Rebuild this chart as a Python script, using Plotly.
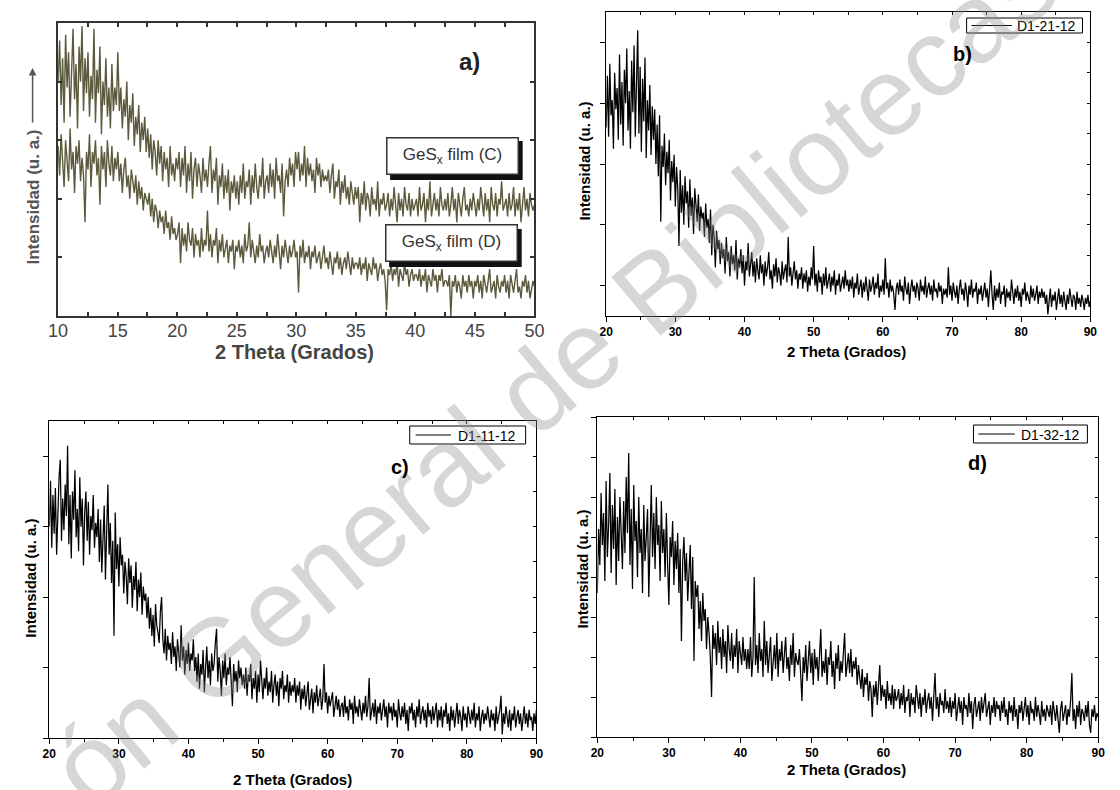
import numpy as np
import plotly.graph_objects as go

W, H = 1120, 790

# ---------------- data (arbitrary intensity units) ----------------
a_x_range = [10, 50]
a_film_c = [
    4.0, 4.7, 3.6, 4.4, 3.3, 4.8, 3.9, 4.5, 3.4, 4.2, 4.9, 3.7, 4.3, 3.2, 4.6, 4.0, 4.95, 3.5, 4.4, 3.8,
    4.5, 3.4, 4.1, 3.7, 4.9, 3.3, 4.2, 3.8, 4.6, 3.1, 4.0, 3.6, 4.4, 3.4, 3.9, 3.2, 4.3, 3.5, 3.9, 3.6,
    4.5, 3.5, 3.9, 3.2, 3.7, 3.4, 4.0, 3.0, 3.6, 3.3, 3.8, 2.9, 3.4, 3.1, 3.6, 2.8, 3.3, 3.0, 3.4, 2.8,
    3.2, 2.7, 3.1, 2.5, 3.0, 2.8, 2.4, 3.0, 2.6, 2.9, 2.3, 2.8, 2.5, 2.7, 2.2, 2.9, 2.4, 2.6, 2.3, 2.7,
    2.5, 2.8, 2.2, 2.7, 2.4, 2.9, 2.1, 2.6, 2.3, 2.8, 2.0, 2.5, 2.7, 2.2, 2.6, 2.4, 2.1, 2.7, 2.3, 2.5,
    2.2, 2.6, 2.9, 2.1, 2.5, 2.3, 2.7, 1.9, 2.4, 2.2, 2.6, 2.0, 2.4, 2.1, 2.5, 1.8, 2.3, 2.1, 2.4, 2.0,
    2.3, 1.9, 2.4, 2.1, 2.6, 2.0, 2.3, 2.2, 2.5, 1.9, 2.4, 2.1, 2.6, 2.2, 2.0, 2.4, 2.2, 2.7, 2.0, 2.3,
    2.4, 2.1, 2.6, 2.2, 2.5, 2.0, 2.7, 2.3, 2.4, 2.1, 2.6, 1.7, 2.3, 2.5, 2.2, 2.7, 2.4, 2.6, 2.2, 2.8,
    2.5, 2.8, 2.3, 2.6, 2.4, 2.9, 2.2, 2.7, 2.4, 2.6, 2.3, 2.5, 2.1, 2.7, 2.4, 2.6, 2.2, 2.5, 2.3, 2.4,
    2.3, 2.5, 2.1, 2.4, 2.6, 2.0, 2.3, 2.2, 2.5, 1.9, 2.3, 2.1, 2.4, 2.0, 2.2, 1.9, 2.3, 2.1, 1.9, 2.2,
    2.0, 2.2, 1.6, 2.1, 1.9, 2.3, 1.8, 2.1, 2.0, 1.7, 2.2, 1.9, 2.0, 1.8, 2.3, 1.7, 2.0, 1.9, 2.1, 1.8,
    1.9, 2.1, 1.7, 2.0, 1.8, 2.2, 1.9, 1.6, 2.1, 1.8, 2.0, 1.7, 2.2, 1.9, 1.8, 2.1, 1.7, 2.0, 1.8, 1.9,
    2.0, 1.7, 2.2, 1.8, 1.9, 2.1, 1.6, 2.0, 1.8, 2.3, 1.7, 1.9, 2.1, 1.8, 2.0, 1.7, 2.2, 1.9, 1.8, 2.0,
    1.8, 2.1, 1.7, 1.9, 2.2, 1.8, 2.0, 1.6, 2.1, 1.9, 1.7, 2.0, 2.2, 1.8, 1.9, 1.7, 2.0, 1.8, 2.1, 1.9,
    1.7, 2.0, 1.8, 2.2, 1.9, 1.7, 2.1, 1.8, 2.0, 1.6, 2.2, 1.9, 1.8, 2.1, 1.7, 2.0, 1.9, 2.3, 1.8, 1.9,
    2.0, 1.7, 2.1, 1.8, 1.9, 2.2, 1.7, 2.0, 1.8, 2.1, 1.6, 1.9, 2.2, 1.8, 2.0, 1.7, 2.1, 1.9, 1.8, 1.9,
]
a_film_d = [
    2.9, 2.4, 3.1, 2.6, 2.2, 3.0, 2.7, 2.3, 3.2, 2.5, 2.8, 2.1, 2.9, 2.6, 3.0, 2.3, 2.7, 2.4, 1.6, 2.8,
    2.5, 3.1, 2.2, 2.8, 2.6, 3.0, 2.4, 2.7, 1.9, 2.9, 2.5, 2.8, 2.2, 3.0, 2.6, 2.4, 2.9, 2.3, 2.7, 2.5,
    2.8, 2.3, 2.6, 2.1, 2.5, 2.7, 2.2, 2.4, 2.0, 2.5, 2.3, 2.1, 2.4, 1.9, 2.3, 2.0, 2.2, 1.8, 2.1, 2.0,
    1.9, 2.1, 1.7, 2.0, 1.6, 1.9, 1.8, 1.5, 1.8, 1.6, 1.7, 1.4, 1.8, 1.5, 1.6, 1.3, 1.7, 1.4, 1.5, 1.3,
    1.4, 1.6, 0.9, 1.5, 1.2, 1.4, 1.1, 1.6, 1.3, 1.2, 1.5, 1.0, 1.4, 1.2, 1.3, 1.0, 1.5, 1.1, 1.3, 1.2,
    1.8, 1.1, 1.4, 1.0, 1.3, 1.2, 1.5, 0.9, 1.3, 1.1, 1.4, 1.0, 1.2, 1.3, 0.9, 1.2, 1.1, 1.3, 0.8, 1.2,
    1.1, 1.3, 1.0, 1.2, 0.9, 1.4, 1.1, 1.2, 1.6, 1.0, 1.3, 1.1, 0.9, 1.2, 1.0, 1.4, 1.1, 1.2, 0.9, 1.1,
    1.2, 1.0, 1.3, 1.1, 0.9, 1.2, 1.0, 1.4, 1.1, 0.8, 1.2, 1.0, 1.3, 1.1, 0.9, 1.2, 1.0, 1.1, 1.3, 1.0,
    1.1, 0.4, 1.2, 1.0, 1.3, 0.9, 1.1, 1.0, 1.2, 0.8, 1.1, 1.0, 1.2, 0.9, 1.0, 1.1, 0.8, 1.0, 1.2, 0.9,
    1.0, 0.8, 1.1, 0.9, 0.7, 1.0, 0.9, 1.1, 0.8, 1.0, 0.7, 0.9, 1.0, 0.8, 1.1, 0.9, 0.7, 1.0, 0.8, 0.9,
    0.9, 0.8, 1.0, 0.7, 0.9, 0.8, 1.0, 0.6, 0.9, 0.8, 0.7, 1.0, 0.8, 0.9, 0.6, 0.8, 0.9, 0.7, 0.8, 0.6,
    0.1, 0.8, 0.7, 0.9, 0.6, 0.8, 0.7, 0.9, 0.5, 0.8, 0.7, 0.6, 0.9, 0.7, 0.8, 0.5, 0.7, 0.8, 0.6, 0.7,
    0.7, 0.6, 0.8, 0.5, 0.7, 0.6, 0.8, 0.4, 0.7, 0.6, 0.5, 0.8, 0.6, 0.7, 0.4, 0.7, 0.6, 0.8, 0.5, 0.6,
    0.6, 0.5, 0.7, 0.0, 0.6, 0.5, 0.7, 0.4, 0.6, 0.5, 0.3, 0.7, 0.5, 0.6, 0.4, 0.7, 0.5, 0.6, 0.3, 0.6,
    0.5, 0.7, 0.4, 0.6, 0.3, 0.7, 0.5, 0.4, 0.6, 0.8, 0.4, 0.5, 0.6, 0.3, 0.7, 0.5, 0.4, 0.6, 0.5, 0.7,
    0.4, 0.6, 0.3, 0.7, 0.5, 0.4, 0.6, 0.8, 0.4, 0.5, 0.3, 0.6, 0.5, 0.7, 0.4, 0.6, 0.3, 0.5, 0.6, 0.5,
]
a_ticks = [10, 12.5, 15, 17.5, 20, 22.5, 25, 27.5, 30, 32.5, 35, 37.5, 40, 42.5, 45, 47.5, 50]
a_ticklabels = ["10", "", "15", "", "20", "", "25", "", "30", "", "35", "", "40", "", "45", "", "50"]
a_labels = ["GeS<sub>x</sub> film (C)", "GeS<sub>x</sub> film (D)"]

bcd_x_range = [20, 90]
bcd_ticks = [20, 30, 40, 50, 60, 70, 80, 90]

b_d1_21_12 = [
    6.2, 7.9, 5.9, 8.3, 6.6, 7.1, 5.5, 8.0, 6.8, 7.5, 5.8, 8.6, 6.3, 7.7, 5.6, 8.1, 7.0, 8.8, 6.1, 7.4,
    5.5, 8.4, 6.7, 8.9, 5.9, 7.3, 9.4, 6.0, 8.2, 5.4, 7.8, 6.4, 8.5, 5.2, 7.1, 6.1, 7.6, 5.3, 6.9, 5.8,
    6.8, 5.0, 6.3, 4.6, 6.6, 3.1, 5.6, 4.9, 6.0, 4.3, 5.4, 4.7, 5.8, 3.8, 5.1, 4.4, 5.3, 3.6, 4.9, 4.2,
    2.3, 4.8, 3.4, 4.3, 3.0, 4.6, 3.7, 4.1, 2.9, 4.5, 3.3, 3.9, 2.7, 4.2, 3.5, 3.1, 4.0, 2.8, 3.6, 3.2,
    3.4, 2.6, 3.7, 2.9, 3.2, 2.4, 3.5, 2.0, 3.0, 2.6, 1.6, 2.8, 2.2, 2.5, 1.7, 2.4, 1.9, 2.2, 1.4, 2.6,
    1.8, 2.1, 1.3, 2.3, 1.7, 2.0, 1.5, 2.5, 1.2, 1.9, 1.6, 2.2, 1.4, 2.0, 1.0, 1.8, 1.5, 2.4, 1.3, 1.7,
    2.1, 1.3, 1.8, 1.1, 1.9, 1.5, 1.2, 2.0, 1.4, 1.7, 1.0, 1.8, 1.3, 1.6, 2.1, 1.2, 1.5, 0.9, 1.7, 1.3,
    1.9, 1.1, 1.6, 1.4, 1.0, 1.8, 1.2, 1.5, 1.7, 1.1, 2.6, 1.3, 1.6, 1.0, 1.4, 1.8, 1.2, 1.5, 0.9, 1.4,
    1.2, 1.6, 0.9, 1.4, 1.1, 1.5, 0.8, 1.3, 1.0, 1.6, 1.2, 2.3, 1.0, 1.4, 0.8, 1.5, 1.1, 1.3, 0.7, 1.4,
    1.0, 1.6, 0.9, 1.2, 1.4, 0.8, 1.3, 1.0, 1.5, 0.7, 1.2, 1.0, 1.4, 0.8, 1.1, 1.3, 0.9, 1.5, 1.0, 1.2,
    0.8, 1.2, 0.9, 1.3, 0.6, 1.1, 0.9, 1.4, 0.7, 1.0, 1.2, 0.6, 1.1, 0.8, 1.3, 0.9, 0.5, 1.2, 0.8, 1.0,
    1.3, 0.7, 1.1, 0.9, 1.4, 0.6, 1.0, 0.8, 1.2, 0.7, 1.9, 0.9, 1.1, 0.6, 1.2, 0.8, 1.0, 0.7, 0.2, 0.9,
    1.1, 0.7, 1.2, 0.8, 1.0, 0.5, 1.3, 0.9, 0.7, 1.1, 0.4, 0.9, 1.2, 0.8, 1.0, 0.6, 1.1, 0.9, 0.5, 1.2,
    0.8, 1.0, 0.7, 1.3, 0.6, 0.9, 1.1, 0.7, 1.0, 0.5, 1.2, 0.8, 0.9, 0.6, 1.1, 0.8, 1.0, 0.4, 0.9, 0.7,
    0.9, 0.6, 1.6, 0.7, 1.0, 0.5, 1.1, 0.8, 0.6, 1.0, 0.4, 0.9, 1.2, 0.7, 0.9, 0.5, 1.1, 0.8, 0.3, 1.0,
    0.7, 1.2, 0.6, 0.9, 0.8, 1.1, 0.4, 0.9, 0.7, 1.0, 0.5, 0.8, 1.1, 0.6, 0.9, 0.3, 0.8, 1.5, 0.7, 0.2,
    1.0, 0.5, 0.9, 0.6, 1.1, 0.4, 0.8, 0.7, 1.0, 0.3, 0.9, 0.6, 0.8, 0.5, 1.2, 0.7, 0.4, 0.9, 0.6, 1.0,
    0.5, 0.8, 0.3, 0.9, 0.7, 1.1, 0.5, 0.8, 0.6, 0.4, 1.0, 0.6, 0.9, 0.5, 0.7, 1.0, 0.4, 0.8, 0.6, 0.9,
    0.6, 0.8, 0.4, 0.7, 0.05, 0.6, 0.9, 0.3, 0.7, 0.5, 0.8, 0.2, 0.6, 0.9, 0.4, 0.7, 0.3, 0.8, 0.5, 0.2,
    0.7, 0.4, 0.9, 0.5, 0.3, 0.7, 0.6, 0.2, 0.8, 0.4, 0.6, 0.3, 0.7, 0.5, 0.2, 0.6, 0.4, 0.7, 0.3, 0.5,
]
c_d1_11_12 = [
    6.0, 7.3, 5.4, 6.9, 5.8, 7.1, 5.2, 6.6, 7.4, 7.9, 5.6, 6.8, 5.9, 7.2, 6.3, 8.3, 5.5, 6.9, 5.1, 7.0,
    6.2, 7.6, 5.7, 6.5, 5.3, 7.4, 6.0, 6.8, 4.9, 6.4, 7.0, 5.6, 6.7, 5.2, 6.3, 5.9, 6.9, 5.4, 6.1, 5.7,
    6.5, 5.0, 6.2, 4.7, 5.9, 6.6, 4.5, 5.8, 7.2, 5.2, 6.1, 4.4, 5.6, 2.9, 6.4, 4.8, 5.5, 4.3, 5.7, 4.9,
    5.2, 4.1, 5.0, 4.6, 3.8, 5.1, 4.4, 4.9, 3.7, 4.6, 4.2, 5.0, 3.6, 4.5, 4.0, 4.7, 3.5, 4.3, 3.9, 4.1,
    3.4, 4.0, 3.1, 3.7, 2.9, 3.5, 2.6, 3.8, 3.2, 3.0, 2.7, 3.6, 4.0, 2.8, 2.4, 3.1, 2.2, 2.9, 2.5, 2.7,
    2.1, 3.0, 2.3, 2.6, 1.9, 2.8, 2.4, 2.0, 3.2, 2.2, 2.6, 1.8, 2.5, 2.1, 2.7, 1.9, 2.4, 2.2, 2.8, 1.9,
    2.3, 1.6, 2.4, 1.4, 2.1, 1.8, 2.5, 1.3, 2.0, 2.6, 1.7, 2.2, 1.5, 2.4, 1.9, 2.1, 2.7, 3.1, 1.6, 2.3,
    1.9, 1.2, 2.2, 1.7, 2.4, 1.5, 2.0, 1.8, 2.3, 1.4, 0.9, 2.1, 1.6, 1.9, 1.3, 2.2, 1.7, 2.0, 1.5, 1.8,
    1.4, 2.0, 1.2, 1.8, 1.6, 2.1, 1.1, 1.7, 1.4, 1.9, 1.0, 1.8, 1.3, 2.2, 1.5, 1.1, 1.7, 1.4, 2.0, 1.2,
    1.6, 1.3, 1.9, 1.0, 1.5, 1.8, 1.2, 1.6, 0.9, 1.7, 1.4, 1.9, 1.1, 1.5, 1.3, 1.8, 1.0, 1.6, 1.2, 1.5,
    1.3, 1.7, 1.0, 1.5, 1.2, 1.6, 0.8, 1.4, 1.1, 1.5, 0.9, 1.3, 1.6, 0.8, 1.2, 1.4, 0.7, 1.3, 1.0, 1.5,
    0.9, 1.2, 1.4, 0.8, 1.1, 2.1, 1.0, 1.3, 0.7, 1.2, 0.9, 1.1, 1.3, 0.6, 1.0, 1.2, 0.8, 1.1, 0.6, 0.9,
    1.0, 0.6, 1.2, 0.7, 0.9, 0.5, 1.1, 0.8, 1.0, 0.4, 1.2, 0.7, 0.9, 0.6, 1.1, 0.8, 0.5, 1.0, 0.7, 1.2,
    0.6, 0.9, 1.7, 0.5, 0.8, 1.0, 0.6, 1.1, 0.4, 0.9, 0.7, 1.0, 0.5, 0.8, 1.1, 0.6, 0.9, 0.3, 1.0, 0.7,
    0.9, 0.5, 1.0, 0.6, 0.8, 0.3, 1.1, 0.7, 0.5, 0.9, 0.6, 1.0, 0.4, 0.8, 0.2, 0.9, 0.7, 1.0, 0.5, 0.8,
    0.3, 0.9, 0.6, 1.1, 0.4, 0.7, 0.9, 0.5, 0.8, 0.3, 1.0, 0.6, 0.8, 0.4, 0.9, 0.5, 0.7, 1.0, 0.3, 0.8,
    0.5, 0.9, 0.3, 0.8, 0.6, 1.0, 0.4, 0.7, 0.2, 0.9, 0.5, 0.8, 0.3, 0.7, 1.0, 0.4, 0.8, 0.6, 0.2, 0.9,
    0.5, 0.7, 0.3, 0.9, 0.6, 0.4, 0.8, 0.5, 1.0, 0.3, 0.7, 0.5, 0.9, 0.2, 0.6, 0.8, 0.4, 0.7, 0.5, 0.9,
    0.6, 0.3, 0.8, 0.5, 0.7, 0.2, 0.9, 0.4, 0.6, 0.8, 1.2, 0.1, 0.7, 0.4, 0.9, 0.5, 0.3, 0.8, 0.2, 0.7,
    0.5, 0.9, 0.3, 0.6, 0.8, 0.4, 0.7, 0.2, 0.6, 0.9, 0.4, 0.7, 0.3, 0.8, 0.5, 0.6, 0.2, 0.7, 0.4, 0.8,
]
d_d1_32_12 = [
    3.6, 5.2, 4.3, 6.1, 4.8, 5.6, 3.9, 6.4, 4.5, 5.3, 6.6, 4.1, 5.8, 4.7, 6.2, 3.8, 5.5, 4.4, 6.0, 5.0,
    4.2, 5.9, 4.6, 6.5, 5.1, 7.1, 4.3, 5.7, 3.7, 6.3, 4.9, 5.4, 4.0, 6.0, 4.6, 5.2, 3.6, 5.8, 4.4, 5.0,
    5.7, 3.5, 5.1, 6.3, 4.5, 5.6, 4.2, 6.0, 4.8, 5.3, 3.9, 5.9, 4.6, 5.2, 4.0, 5.6, 4.3, 3.3, 5.0, 4.5,
    5.4, 3.8, 4.9, 4.2, 5.1, 3.6, 4.7, 2.4, 4.4, 5.0, 3.9, 4.6, 3.4, 4.2, 4.8, 3.2, 4.5, 1.9, 3.9, 3.5,
    3.8, 2.7, 3.4, 2.4, 3.6, 2.9, 3.2, 2.2, 3.0, 2.6, 2.0, 1.0, 2.8, 2.2, 2.6, 1.8, 2.9, 2.1, 2.5, 1.7,
    2.7, 2.0, 2.4, 1.6, 2.8, 2.2, 1.9, 2.6, 1.7, 2.3, 2.0, 2.7, 1.6, 2.4, 2.1, 1.8, 2.5, 1.9, 2.2, 1.7,
    2.2, 1.7, 2.5, 1.5, 2.0, 4.0, 1.8, 2.3, 1.6, 2.6, 1.9, 2.2, 1.5, 2.9, 1.8, 2.4, 1.6, 2.1, 2.5, 1.4,
    2.0, 2.3, 1.7, 2.6, 1.5, 2.2, 1.9, 2.4, 1.6, 2.1, 2.5, 1.7, 2.0, 1.4, 2.3, 1.8, 2.6, 1.5, 2.1, 1.9,
    1.8, 2.2, 1.5, 0.9, 2.0, 1.6, 2.3, 1.4, 1.9, 2.4, 1.6, 2.1, 1.3, 2.2, 1.7, 2.0, 1.4, 2.3, 2.7, 1.5,
    1.9, 1.6, 2.2, 1.3, 2.0, 1.8, 2.4, 1.5, 1.9, 1.2, 2.1, 1.7, 2.3, 1.4, 1.9, 1.6, 2.2, 2.6, 1.5, 1.8,
    2.1, 1.6, 2.2, 1.5, 1.9, 1.7, 2.0, 1.3, 1.8, 1.5, 1.2, 1.7, 1.0, 1.5, 1.3, 1.6, 0.9, 1.4, 1.2, 0.5,
    1.3, 1.0, 1.4, 0.8, 1.2, 1.8, 0.9, 1.3, 1.0, 1.2, 0.7, 1.4, 0.9, 1.1, 0.8, 1.3, 0.7, 1.2, 0.9, 1.0,
    1.2, 0.7, 1.1, 0.8, 1.3, 0.6, 1.0, 0.9, 1.2, 0.5, 1.1, 0.8, 1.0, 0.6, 1.3, 0.9, 0.7, 1.1, 0.5, 1.0,
    0.8, 1.2, 0.6, 0.9, 1.1, 0.7, 1.0, 0.4, 0.9, 1.6, 0.7, 1.0, 0.5, 1.1, 0.8, 0.9, 0.6, 1.2, 0.7, 0.9,
    0.6, 1.0, 0.5, 0.9, 0.7, 1.1, 0.4, 0.8, 1.0, 0.6, 0.9, 0.3, 1.0, 0.7, 0.8, 0.5, 1.1, 0.6, 0.9, 0.2,
    0.8, 1.0, 0.5, 0.7, 0.9, 0.4, 1.0, 0.6, 0.8, 1.1, 0.5, 0.7, 0.9, 0.3, 0.8, 0.6, 1.0, 0.5, 0.9, 0.7,
    0.8, 0.4, 0.9, 0.6, 1.0, 0.5, 0.7, 0.3, 0.9, 0.6, 0.8, 0.4, 1.0, 0.5, 0.7, 0.2, 0.8, 0.6, 0.9, 0.4,
    0.7, 1.0, 0.5, 0.8, 0.3, 0.9, 0.6, 0.7, 0.4, 1.0, 0.5, 0.8, 0.6, 0.3, 0.9, 0.5, 0.7, 0.4, 0.8, 0.6,
    0.5, 0.8, 0.3, 0.9, 0.6, 0.4, 0.8, 0.5, 0.1, 0.7, 0.9, 0.4, 0.6, 0.8, 0.3, 0.7, 0.5, 0.9, 1.6, 0.4,
    0.7, 0.2, 0.8, 0.5, 0.9, 0.3, 0.7, 0.6, 0.4, 0.8, 0.5, 0.9, 0.3, 0.1, 0.7, 0.5, 0.8, 0.4, 0.6, 0.5,
]
series_names = ["D1-21-12", "D1-11-12", "D1-32-12"]
panel_tags = ["a)", "b)", "c)", "d)"]
x_title = "2 Theta (Grados)"
y_title = "Intensidad (u. a.)"
watermark = "ón General de Bibliotecas"

a_x = np.linspace(a_x_range[0], a_x_range[1], len(a_film_c))
b_x = np.linspace(bcd_x_range[0], bcd_x_range[1], len(b_d1_21_12))
c_x = np.linspace(bcd_x_range[0], bcd_x_range[1], len(c_d1_11_12))
d_x = np.linspace(bcd_x_range[0], bcd_x_range[1], len(d_d1_32_12))


def px(x):
    return x / W


def py(y):
    return 1 - y / H


def text(x, y, s, size, color="black", angle=0, family="Arial", xanchor="center", **kw):
    d = dict(x=px(x), y=py(y), xref="paper", yref="paper", text=s, showarrow=False,
             xanchor=xanchor, yanchor="middle", textangle=angle,
             font=dict(family=family, size=size, color=color))
    d.update(kw)
    return d


fig = go.Figure()

# ---- panel a ----
olive = "#5b5a3c"
fig.add_trace(go.Scatter(x=a_x, y=a_film_c, mode="lines", line=dict(color=olive, width=1.4),
                         showlegend=False, xaxis="x", yaxis="y", hoverinfo="skip"))
fig.add_trace(go.Scatter(x=a_x, y=a_film_d, mode="lines", line=dict(color=olive, width=1.4),
                         showlegend=False, xaxis="x", yaxis="y", hoverinfo="skip"))

# ---- panels b, c, d ----
panels = [
    dict(n=2, ov=6, x=b_x, y=b_d1_21_12, name=series_names[0], dom_x=(607, 1100), dom_y=(316, 12),
         yr=[0, 10], ltick0=1, ldtick=2,
         leg=dict(box=(974, 18, 1092, 33), line=(979, 1020), tx=1023)),
    dict(n=3, ov=7, x=c_x, y=c_d1_11_12, name=series_names[1], dom_x=(40, 536), dom_y=(738, 421),
         yr=[0, 9], ltick0=0, ldtick=2,
         leg=dict(box=(407, 426, 525, 444), line=(413, 449), tx=454)),
    dict(n=4, ov=8, x=d_x, y=d_d1_32_12, name=series_names[2], dom_x=(598, 1108), dom_y=(737, 417),
         yr=[0, 8], ltick0=0, ldtick=1,
         leg=dict(box=(981, 425, 1097, 443), line=(986, 1023), tx=1027)),
]

layout_axes = {}
ann = []
shapes = []
for p in panels:
    n, ov = p["n"], p["ov"]
    fig.add_trace(go.Scatter(x=p["x"], y=p["y"], mode="lines", line=dict(color="black", width=1.25),
                             name=p["name"], showlegend=False, xaxis=f"x{n}", yaxis=f"y{n}",
                             hoverinfo="skip"))
    fig.add_trace(go.Scatter(x=[None], y=[None], mode="lines", showlegend=False,
                             xaxis=f"x{ov}", yaxis=f"y{ov}", hoverinfo="skip"))
    dx = [px(p["dom_x"][0]), px(p["dom_x"][1])]
    dy = [py(p["dom_y"][0]), py(p["dom_y"][1])]
    layout_axes[f"xaxis{n}"] = dict(
        domain=dx, anchor=f"y{n}", range=bcd_x_range, tickvals=bcd_ticks,
        ticks="outside", ticklen=5, tickwidth=1, tickcolor="black",
        minor=dict(tick0=20, dtick=5, ticks="outside", ticklen=3, tickcolor="black"),
        showline=True, linecolor="black", linewidth=1, showgrid=False, zeroline=False,
        tickfont=dict(family="Arial", size=12, color="black", weight="bold"))
    layout_axes[f"yaxis{n}"] = dict(
        domain=dy, anchor=f"x{n}", range=p["yr"], tick0=p["ltick0"], dtick=p["ldtick"],
        ticks="outside", ticklen=5, tickcolor="black", showticklabels=False,
        showline=True, linecolor="black", linewidth=1, showgrid=False, zeroline=False)
    layout_axes[f"xaxis{ov}"] = dict(
        overlaying=f"x{n}", anchor=f"y{n}", side="top", range=bcd_x_range, tick0=20, dtick=5,
        ticks="inside", ticklen=3, tickcolor="black", showticklabels=False,
        showline=True, linecolor="black", linewidth=1, showgrid=False, zeroline=False)
    layout_axes[f"yaxis{ov}"] = dict(
        overlaying=f"y{n}", anchor=f"x{n}", side="right", range=p["yr"], tick0=0, dtick=1,
        ticks="inside", ticklen=3, tickcolor="black", showticklabels=False,
        showline=True, linecolor="black", linewidth=1, showgrid=False, zeroline=False)
    # legend box (drawn as shapes + text)
    x0, y0, x1, y1 = p["leg"]["box"]
    ym = (y0 + y1) / 2
    shapes.append(dict(type="rect", xref="paper", yref="paper", x0=px(x0), x1=px(x1),
                       y0=py(y1), y1=py(y0), fillcolor="white", line=dict(color="black", width=1)))
    l0, l1 = p["leg"]["line"]
    shapes.append(dict(type="line", xref="paper", yref="paper", x0=px(l0), x1=px(l1),
                       y0=py(ym), y1=py(ym), line=dict(color="black", width=1)))
    ann.append(text(p["leg"]["tx"], ym + 0.5, p["name"], 14, xanchor="left"))

fig.update_layout(**layout_axes)

fig.update_layout(
    width=W, height=H, margin=dict(l=0, r=0, t=0, b=0),
    paper_bgcolor="white", plot_bgcolor="white", showlegend=False,
    xaxis=dict(domain=[px(49), px(534)], anchor="y", range=a_x_range, tickvals=a_ticks,
               ticktext=a_ticklabels, ticks="inside", ticklen=4, tickwidth=1.5, tickcolor="#333",
               showline=True, linecolor="#333", linewidth=2, mirror="ticks",
               showgrid=False, zeroline=False, ticklabelstandoff=-3,
               tickfont=dict(family="Arial", size=18, color="#444")),
    yaxis=dict(domain=[py(316), py(23)], anchor="x", range=[0, 5], dtick=1, ticks="inside",
               ticklen=4, tickwidth=1.5, tickcolor="#333", showticklabels=False,
               showline=True, linecolor="#333", linewidth=2, mirror="ticks",
               showgrid=False, zeroline=False),
)

# watermark
ann.append(text(553, 376, watermark, 111, color="rgba(140,140,140,0.36)", angle=-40,
                family="Liberation Sans"))
# panel a texts
ann.append(text(468, 62, f"<b>{panel_tags[0]}</b>", 24, color="#222"))
ann.append(text(290, 352, f"<b>{x_title}</b>", 20, color="#444"))
ann.append(text(23, 197, f"<b>{y_title}</b>", 17, color="#555", angle=-90))
ann.append(dict(x=px(23), y=py(68), xref="paper", yref="paper", text="", showarrow=True,
                ax=0, ay=56, arrowhead=2, arrowsize=1, arrowwidth=1.5, arrowcolor="#555"))
for lab, (cx, cy) in zip(a_labels, [(450.5, 156), (449.5, 243.5)]):
    ann.append(text(cx, cy, lab, 17, color="#333", width=130, height=35, bgcolor="white",
                    bordercolor="#333", borderwidth=1.5, borderpad=0))
# b, c, d texts
for tag, (tx, ty) in zip(panel_tags[1:], [(970, 54), (397, 467), (985, 463)]):
    ann.append(text(tx, ty, f"<b>{tag}</b>", 20))
for (tx, ty) in [(852, 352), (288, 779), (852, 769)]:
    ann.append(text(tx, ty, f"<b>{x_title}</b>", 15))
for (tx, ty) in [(585, 161), (20, 578), (582, 569)]:
    ann.append(text(tx, ty, f"<b>{y_title}</b>", 15, angle=-90))

for (x0, y0, x1, y1) in [(387, 141, 522, 180), (386, 229, 521, 267)]:
    shapes.insert(0, dict(type="rect", xref="paper", yref="paper", x0=px(x0), x1=px(x1),
                          y0=py(y1), y1=py(y0), fillcolor="#111", line=dict(width=0)))

fig.update_layout(annotations=ann, shapes=shapes)
fig.write_html("out.html")
